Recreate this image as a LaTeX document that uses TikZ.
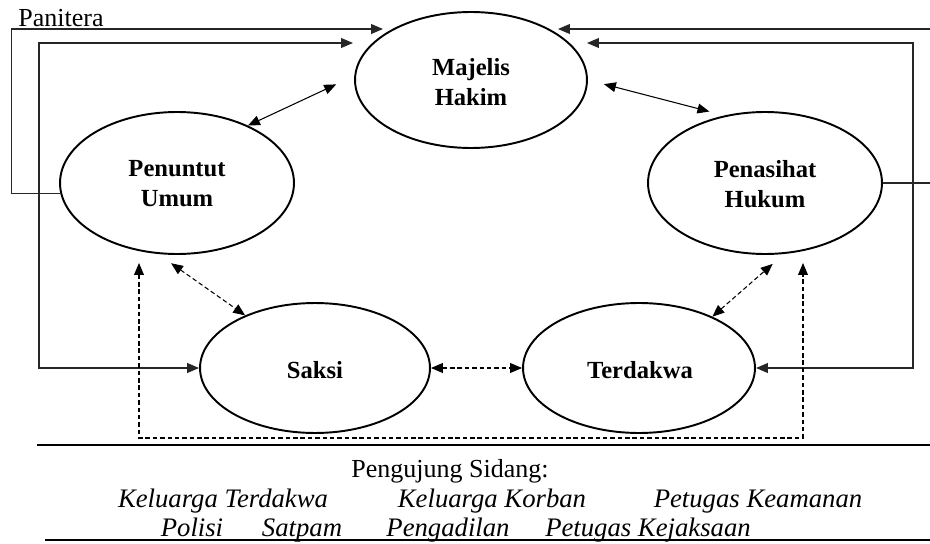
\documentclass[tikz,border=0pt]{standalone}
\usepackage{fontspec}
\setmainfont{Liberation Serif}
\usetikzlibrary{arrows.meta,shapes.geometric}

\begin{document}
\begin{tikzpicture}[x=0.02cm, y=-0.02cm, >={Triangle[length=6.8pt,width=5.6pt]},
	pihak/.style={draw, ellipse, line width=1.1pt, inner sep=0pt},
	pihakText/.style={font=\fontsize{14}{17}\selectfont\bfseries, align=center},
	alur/.style={line width=.75pt, black!85},
	relasi/.style={<->, line width=.6pt},
	hadir/.style={<->, line width=.6pt, dash pattern=on 2.6pt off 1.6pt},
	garis/.style={line width=1.5pt},
	hadirinText/.style={font=\fontsize{15.2}{17}\selectfont\itshape, anchor=base}]
	\useasboundingbox (0,0) rectangle (930,544);
	\node[pihak, minimum width=4.64cm, minimum height=2.72cm] (majelis) at (471,80) {};
	\node[pihakText] (majelisText) at (471,82) {Majelis\\Hakim};
	\node[pihak, minimum width=4.68cm, minimum height=2.84cm] (penuntut) at (177,183) {};
	\node[pihakText] (penuntutText) at (177,184) {Penuntut\\Umum};
	\node[pihak, minimum width=4.68cm, minimum height=2.84cm] (penasihat) at (765,183) {};
	\node[pihakText] (penasihatText) at (765,184) {Penasihat\\Hukum};
	\node[pihak, minimum width=4.6cm, minimum height=2.6cm] (saksi) at (315,368) {};
	\node[pihakText] (saksiText) at (315,370) {Saksi};
	\node[pihak, minimum width=4.64cm, minimum height=2.6cm] (terdakwa) at (639,368) {};
	\node[pihakText] (terdakwaText) at (640,370) {Terdakwa};
	\node[anchor=base west, font=\fontsize{14.8}{17}\selectfont, inner sep=0pt] (paniteraText) at (18,27) {Panitera};
	\coordinate (majelisA) at (383,29);
	\coordinate (majelisB) at (353,43);
	\coordinate (majelisC) at (558,29);
	\coordinate (majelisD) at (587,43);
	\coordinate (penuntutB) at (139,263);
	\coordinate (penasihatB) at (803,263);
	\draw[alur, ->] (penuntut.185) -- ++(-49,0) |- (majelisA);
	\draw[alur, <->] (majelisB) -- ++(-314,0) |- (saksi.west);
	\draw[alur, ->] (penasihat.east) -- ++(48,0) |- (majelisC);
	\draw[alur, <->] (majelisD) -- ++(326,0) |- (terdakwa.east);
	\draw[relasi, shorten <=0.4cm] (majelis.178) -- (penuntut.39);
	\draw[relasi, shorten <=0.33cm, shorten >=0.31cm] (majelis.east) -- (penasihat.121);
	\draw[hadir, shorten <=0.32cm] (penuntut.255) -- (saksi.143);
	\draw[hadir, shorten >=0.3cm] (terdakwa.35) -- (penasihat.285);
	\draw[hadir] (saksi.east) -- (terdakwa.west);
	\draw[hadir] (penuntutB) -- ++(0,175) -| (penasihatB);
	\draw[garis] (37,445) -- (930,445);
	\draw[garis] (45,540) -- (930,540);
	\node[anchor=base, font=\fontsize{14.8}{17}\selectfont] (pengujungText) at (450,477) {Pengujung Sidang:};
	\node[hadirinText] (keluargaTerdakwa) at (223,507) {Keluarga Terdakwa};
	\node[hadirinText] (keluargaKorban) at (492,507) {Keluarga Korban};
	\node[hadirinText] (petugasKeamanan) at (758,507) {Petugas Keamanan};
	\node[hadirinText] (polisi) at (192,536) {Polisi};
	\node[hadirinText] (satpam) at (302,536) {Satpam};
	\node[hadirinText] (pengadilan) at (448,536) {Pengadilan};
	\node[hadirinText] (petugasKejaksaan) at (648,536) {Petugas Kejaksaan};
\end{tikzpicture}
\end{document}
